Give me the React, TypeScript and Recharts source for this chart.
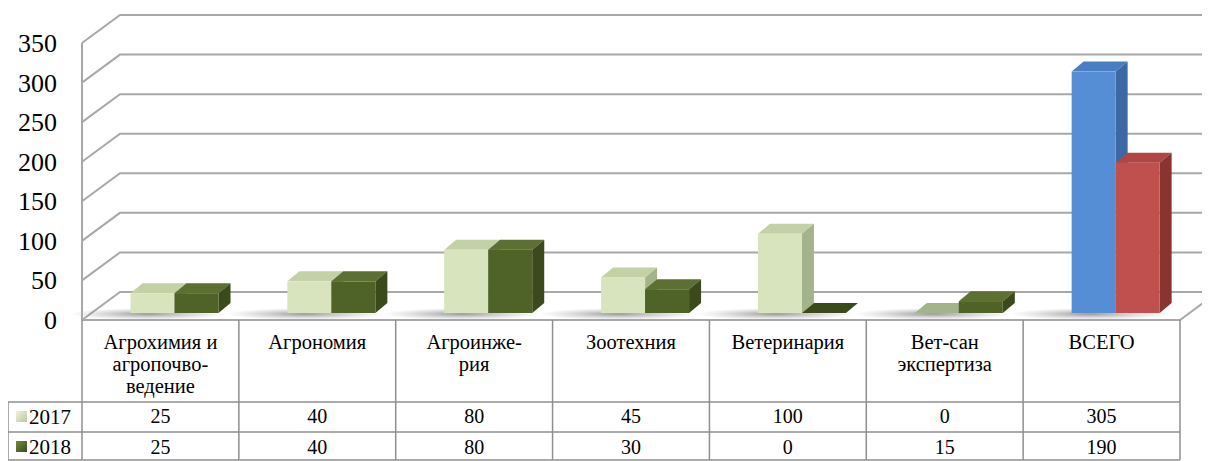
import React from "react";
import { Bar, BarChart, CartesianGrid, Cell, XAxis, YAxis } from "recharts";

const categories = [
  "Агрохимия и агропочвоведение",
  "Агрономия",
  "Агроинженерия",
  "Зоотехния",
  "Ветеринария",
  "Вет-сан экспертиза",
  "ВСЕГО"
];
// header lines as they are broken in the table
const labelLines = [
  ["Агрохимия и", "агропочво-", "ведение"],
  ["Агрономия"],
  ["Агроинже-", "рия"],
  ["Зоотехния"],
  ["Ветеринария"],
  ["Вет-сан", "экспертиза"],
  ["ВСЕГО"]
];
const seriesNames = ["2017", "2018"];
const values2017 = [25, 40, 80, 45, 100, 0, 305];
const values2018 = [25, 40, 80, 30, 0, 15, 190];
const yTicks = [0, 50, 100, 150, 200, 250, 300, 350];

const data = categories.map((name, i) => ({ name, y2017: values2017[i], y2018: values2018[i] }));

const W = 1210;
const H = 461;
const AXIS_W = 82;
const TABLE_H = 141;
const RIGHT = 30;
const TOP = 43;
const PLOT_W = W - AXIS_W - RIGHT;
const COL_W = PLOT_W / categories.length;

const FONT = "Liberation Serif, Times New Roman, serif";
const gridColor = "#a8a8a8";
const tableColor = "#8f8f8f";

const green17 = "#d7e4bd";
const green18 = "#4f6228";
const blue = "#558ed5";
const red = "#c0504d";
const shades: Record<string, { top: string; side: string }> = {
  [green17]: { top: "#c3d1a6", side: "#a3b38a" },
  [green18]: { top: "#5c7131", side: "#3a4a1b" },
  [blue]: { top: "#4a7ec2", side: "#3c69a3" },
  [red]: { top: "#b04643", side: "#8a3431" }
};

// wall depth offset and bar depth offset
const WALL_DX = 38;
const WALL_DY = -28;
const BAR_SHIFT_X = 14;
const BAR_SHIFT_Y = -7;
const DEPTH_X = 12;
const DEPTH_Y = -10;

function Label(props: any) {
  const { children, ...rest } = props;
  return (
    <text fill="#000" fontFamily={FONT} style={{ fontFamily: FONT }} {...rest}>
      {children}
    </text>
  );
}

function GridLine(props: any) {
  const { x1, y1, x2 } = props;
  const floor = Math.abs(y1 - (H - TABLE_H)) < 1;
  return (
    <g>
      <path
        d={`M${x1},${y1} L${x1 + WALL_DX},${y1 + WALL_DY} L${W + 10},${y1 + WALL_DY}`}
        fill="none"
        stroke={gridColor}
        strokeWidth={2}
      />
      {floor && (
        <path
          d={`M${x1},${y1} L${x2},${y1} L${x2 + WALL_DX},${y1 + WALL_DY}`}
          fill="none"
          stroke={gridColor}
          strokeWidth={2}
        />
      )}
    </g>
  );
}

function Box3D(props: any) {
  const { x, y, width, height, fill, dataKey } = props;
  if (x == null || y == null) return null;
  const fx = x + BAR_SHIFT_X;
  const fy = y + BAR_SHIFT_Y;
  const w = width;
  const h = Math.max(0, height);
  const s = shades[fill] || { top: fill, side: fill };
  const base = fy + h;
  return (
    <g>
      {dataKey === "y2017" && (
        <ellipse cx={fx + w * 0.4} cy={base + 1} rx={w * 1.8} ry={6} fill="url(#barShadow)" />
      )}
      <polygon
        points={`${fx},${fy} ${fx + DEPTH_X},${fy + DEPTH_Y} ${fx + w + DEPTH_X},${fy + DEPTH_Y} ${fx + w},${fy}`}
        fill={h > 0 ? s.top : s.side}
      />
      {h > 0 && (
        <polygon
          points={`${fx + w},${fy} ${fx + w + DEPTH_X},${fy + DEPTH_Y} ${fx + w + DEPTH_X},${base + DEPTH_Y} ${fx + w},${base}`}
          fill={s.side}
        />
      )}
      {h > 0 && <rect x={fx} y={fy} width={w} height={h} fill={fill} />}
    </g>
  );
}

function YTick(props: any) {
  const { x, y, payload } = props;
  return (
    <Label x={x} y={y + 9} textAnchor="end" fontSize={26}>
      {payload.value}
    </Label>
  );
}

function TableTick(props: any) {
  const { x, y, payload } = props;
  const i = payload.index;
  const left = x - COL_W / 2;
  const right = x + COL_W / 2;
  const last = i === categories.length - 1;
  const rowTop = y + 82;
  const rowMid = y + 112;
  const rowBot = y + TABLE_H - 1;
  const tableLeft = 8;
  return (
    <g>
      <line x1={left} y1={y} x2={left} y2={rowBot} stroke={tableColor} strokeWidth={1.5} />
      {last && <line x1={right} y1={y} x2={right} y2={rowBot} stroke={tableColor} strokeWidth={1.5} />}
      {labelLines[i].map((t, k) => (
        <Label key={k} x={x} y={y + 29 + k * 22} textAnchor="middle" fontSize={20.5}>
          {t}
        </Label>
      ))}
      <Label x={x} y={y + 103} textAnchor="middle" fontSize={20}>
        {values2017[i]}
      </Label>
      <Label x={x} y={y + 134} textAnchor="middle" fontSize={20}>
        {values2018[i]}
      </Label>
      {i === 0 && (
        <g>
          <line x1={tableLeft} y1={rowTop} x2={left + PLOT_W} y2={rowTop} stroke={tableColor} strokeWidth={1.5} />
          <line x1={tableLeft} y1={rowMid} x2={left + PLOT_W} y2={rowMid} stroke={tableColor} strokeWidth={1.5} />
          <line x1={tableLeft} y1={rowBot} x2={left + PLOT_W} y2={rowBot} stroke={tableColor} strokeWidth={1.5} />
          <line x1={tableLeft} y1={rowTop} x2={tableLeft} y2={rowBot} stroke={tableColor} strokeWidth={1.5} />
          <rect x={16} y={rowTop + 9} width={11} height={11} fill="url(#key17)" />
          <Label x={29} y={rowTop + 22} fontSize={21}>
            {seriesNames[0]}
          </Label>
          <rect x={16} y={rowMid + 9} width={11} height={11} fill="url(#key18)" />
          <Label x={29} y={rowMid + 22} fontSize={21}>
            {seriesNames[1]}
          </Label>
        </g>
      )}
    </g>
  );
}

export default function App() {
  return (
    <div style={{ fontFamily: FONT, margin: "-8px 0 0 -8px", width: W, height: H }}>
      <BarChart
        width={W}
        height={H}
        data={data}
        margin={{ top: TOP, right: RIGHT, bottom: 0, left: 0 }}
        barCategoryGap="22%"
        barGap={0}
        style={{ fontFamily: FONT }}
      >
        <defs>
          <radialGradient id="barShadow">
            <stop offset="0%" stopColor="#555" stopOpacity={0.6} />
            <stop offset="100%" stopColor="#888" stopOpacity={0} />
          </radialGradient>
          <linearGradient id="key17" x1="0" y1="0" x2="1" y2="1">
            <stop offset="0%" stopColor="#eef3e3" />
            <stop offset="100%" stopColor="#b9c99a" />
          </linearGradient>
          <linearGradient id="key18" x1="0" y1="0" x2="1" y2="1">
            <stop offset="0%" stopColor="#6f8c3c" />
            <stop offset="100%" stopColor="#3a4b1b" />
          </linearGradient>
        </defs>
        <CartesianGrid vertical={false} horizontal={(p: any) => <GridLine {...p} />} />
        <XAxis
          dataKey="name"
          height={TABLE_H}
          axisLine={false}
          tickLine={false}
          tickSize={0}
          tickMargin={0}
          interval={0}
          tick={<TableTick />}
        />
        <YAxis
          width={AXIS_W}
          domain={[0, 350]}
          ticks={yTicks}
          axisLine={{ stroke: gridColor, strokeWidth: 2 }}
          tickLine={false}
          tickSize={0}
          tickMargin={25}
          tick={<YTick />}
        />
        <Bar dataKey="y2017" name={seriesNames[0]} shape={<Box3D />} isAnimationActive={false}>
          {data.map((d, i) => (
            <Cell key={d.name} fill={i === data.length - 1 ? blue : green17} />
          ))}
        </Bar>
        <Bar dataKey="y2018" name={seriesNames[1]} shape={<Box3D />} isAnimationActive={false}>
          {data.map((d, i) => (
            <Cell key={d.name} fill={i === data.length - 1 ? red : green18} />
          ))}
        </Bar>
      </BarChart>
    </div>
  );
}
